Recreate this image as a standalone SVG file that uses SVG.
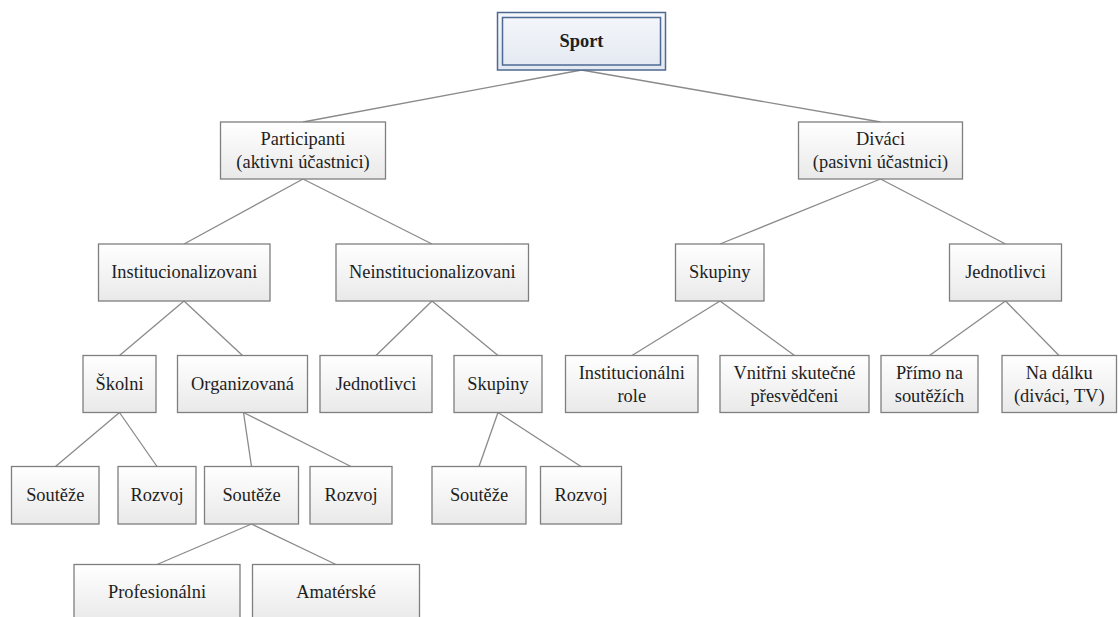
<svg xmlns="http://www.w3.org/2000/svg" width="1118" height="617" viewBox="0 0 1118 617">
<defs>
<linearGradient id="g" x1="0" y1="0" x2="0" y2="1">
<stop offset="0" stop-color="#ffffff"/>
<stop offset="1" stop-color="#e9e9e9"/>
</linearGradient>
<linearGradient id="gs" x1="0" y1="0" x2="0" y2="1">
<stop offset="0" stop-color="#f5f7fb"/>
<stop offset="1" stop-color="#e3e8f1"/>
</linearGradient>
</defs>
<style>
.b{fill:url(#g);stroke:#7f7f7f;stroke-width:1.3}
.t{font-family:"Liberation Serif","Times New Roman",serif;font-size:18.4px;fill:#1e1e1e;text-anchor:middle}
.c line{stroke:#8a8a8a;stroke-width:1.3}
</style>
<rect width="1118" height="617" fill="#ffffff"/>
<g class="c">
<line x1="581.5" y1="70" x2="303" y2="122"/>
<line x1="581.5" y1="70" x2="880.5" y2="122"/>
<line x1="303" y1="179" x2="184" y2="244"/>
<line x1="303" y1="179" x2="432" y2="244"/>
<line x1="880.5" y1="179" x2="720" y2="244"/>
<line x1="880.5" y1="179" x2="1005.5" y2="244"/>
<line x1="184" y1="301" x2="119.5" y2="355.5"/>
<line x1="184" y1="301" x2="242.5" y2="355.5"/>
<line x1="432" y1="301" x2="376" y2="355.5"/>
<line x1="432" y1="301" x2="498" y2="355.5"/>
<line x1="720" y1="301" x2="632" y2="355.5"/>
<line x1="720" y1="301" x2="794.5" y2="355.5"/>
<line x1="1005.5" y1="301" x2="929.5" y2="355.5"/>
<line x1="1005.5" y1="301" x2="1059" y2="355.5"/>
<line x1="119.5" y1="412.5" x2="55.5" y2="466.5"/>
<line x1="119.5" y1="412.5" x2="157" y2="466.5"/>
<line x1="243.5" y1="412.5" x2="251.5" y2="466.5"/>
<line x1="243.5" y1="412.5" x2="351" y2="466.5"/>
<line x1="498" y1="412.5" x2="479" y2="466.5"/>
<line x1="498" y1="412.5" x2="581" y2="466.5"/>
<line x1="251.5" y1="524" x2="157" y2="564.5"/>
<line x1="251.5" y1="524" x2="336" y2="564.5"/>
</g>
<g id="sport">
<rect x="497.5" y="12.5" width="168" height="57.5" fill="url(#gs)" stroke="#4e6a92" stroke-width="1.5"/>
<rect x="502.5" y="17.5" width="158" height="47.5" fill="none" stroke="#4e6a92" stroke-width="1.5"/>
<text class="t" x="581.5" y="46.7" font-weight="bold">Sport</text>
</g>
<g id="participanti">
<rect class="b" x="220.5" y="122" width="165" height="57"/>
<text class="t" x="303" y="145">Participanti</text>
<text class="t" x="303" y="168">(aktivni účastnici)</text>
</g>
<g id="divaci">
<rect class="b" x="798.5" y="122" width="164" height="57"/>
<text class="t" x="880.5" y="145">Diváci</text>
<text class="t" x="880.5" y="168">(pasivni účastnici)</text>
</g>
<g id="institucionalizovani">
<rect class="b" x="98.5" y="244" width="171.5" height="57"/>
<text class="t" x="184.25" y="278">Institucionalizovani</text>
</g>
<g id="neinstitucionalizovani">
<rect class="b" x="336" y="244" width="192.5" height="57"/>
<text class="t" x="432.25" y="278">Neinstitucionalizovani</text>
</g>
<g id="skupiny-divaci">
<rect class="b" x="675.5" y="244" width="88.5" height="57"/>
<text class="t" x="719.75" y="278">Skupiny</text>
</g>
<g id="jednotlivci-divaci">
<rect class="b" x="949.5" y="244" width="112" height="57"/>
<text class="t" x="1005.5" y="278">Jednotlivci</text>
</g>
<g id="skolni">
<rect class="b" x="83" y="355.5" width="73" height="57"/>
<text class="t" x="119.5" y="389.5">Školni</text>
</g>
<g id="organizovana">
<rect class="b" x="177.5" y="355.5" width="130" height="57"/>
<text class="t" x="242.5" y="389.5">Organizovaná</text>
</g>
<g id="jednotlivci">
<rect class="b" x="320" y="355.5" width="112" height="57"/>
<text class="t" x="376" y="389.5">Jednotlivci</text>
</g>
<g id="skupiny">
<rect class="b" x="454" y="355.5" width="88" height="57"/>
<text class="t" x="498" y="389.5">Skupiny</text>
</g>
<g id="institucionalni-role">
<rect class="b" x="565.5" y="355.5" width="132.5" height="57"/>
<text class="t" x="631.75" y="378.5">Institucionálni</text>
<text class="t" x="631.75" y="401.8">role</text>
</g>
<g id="vnitrni">
<rect class="b" x="720" y="355.5" width="149" height="57"/>
<text class="t" x="794.5" y="378.5">Vnitřni skutečné</text>
<text class="t" x="794.5" y="401.8">přesvědčeni</text>
</g>
<g id="primo">
<rect class="b" x="881" y="355.5" width="97" height="57"/>
<text class="t" x="929.5" y="378.5">Přímo na</text>
<text class="t" x="929.5" y="401.8">soutěžích</text>
</g>
<g id="na-dalku">
<rect class="b" x="1002" y="355.5" width="114.5" height="57"/>
<text class="t" x="1059.25" y="378.5">Na dálku</text>
<text class="t" x="1059.25" y="401.8">(diváci, TV)</text>
</g>
<g id="souteze1">
<rect class="b" x="11.5" y="466.5" width="87.5" height="57.5"/>
<text class="t" x="55.25" y="500.7">Soutěže</text>
</g>
<g id="rozvoj1">
<rect class="b" x="118" y="466.5" width="78" height="57.5"/>
<text class="t" x="157" y="500.7">Rozvoj</text>
</g>
<g id="souteze2">
<rect class="b" x="204.5" y="466.5" width="94" height="57.5"/>
<text class="t" x="251.5" y="500.7">Soutěže</text>
</g>
<g id="rozvoj2">
<rect class="b" x="310" y="466.5" width="82" height="57.5"/>
<text class="t" x="351" y="500.7">Rozvoj</text>
</g>
<g id="souteze3">
<rect class="b" x="432" y="466.5" width="94" height="57.5"/>
<text class="t" x="479" y="500.7">Soutěže</text>
</g>
<g id="rozvoj3">
<rect class="b" x="540.5" y="466.5" width="81" height="57.5"/>
<text class="t" x="581" y="500.7">Rozvoj</text>
</g>
<g id="profesionalni">
<rect class="b" x="74" y="564.5" width="166" height="57"/>
<text class="t" x="157" y="597.5">Profesionálni</text>
</g>
<g id="amaterske">
<rect class="b" x="252.5" y="564.5" width="167" height="57"/>
<text class="t" x="336" y="597.5">Amatérské</text>
</g>
</svg>
